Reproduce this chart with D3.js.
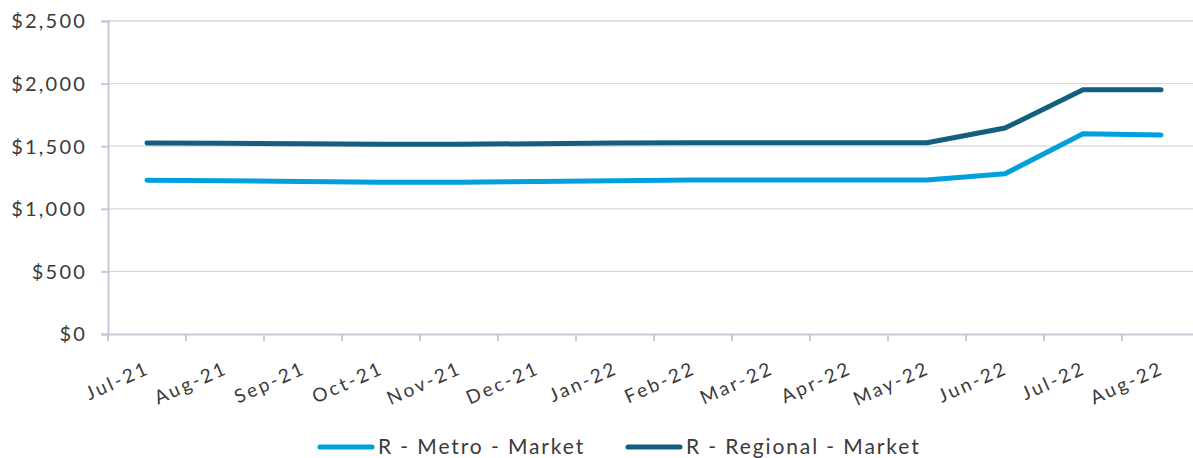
<!DOCTYPE html>
<html>
<head>
<meta charset="utf-8">
<script src="https://cdn.jsdelivr.net/npm/d3@7"></script>
<style>
  html, body { margin: 0; padding: 0; background: #ffffff; }
  svg { display: block; }
  text { font-family: Lato, "Open Sans", sans-serif; fill: #3a3a3a; }
</style>
</head>
<body>
<svg id="chart" width="1193" height="458"></svg>
<script>
// Monthly rent, metro vs regional markets
const months = ["Jul-21","Aug-21","Sep-21","Oct-21","Nov-21","Dec-21","Jan-22","Feb-22","Mar-22","Apr-22","May-22","Jun-22","Jul-22","Aug-22"];
const metro    = [1228, 1224, 1218, 1212, 1212, 1218, 1225, 1230, 1230, 1230, 1230, 1280, 1600, 1590];
const regional = [1525, 1523, 1520, 1516, 1516, 1520, 1525, 1528, 1528, 1528, 1528, 1645, 1950, 1950];
const yTicks = [0, 500, 1000, 1500, 2000, 2500];
const seriesNames = ["R - Metro - Market", "R - Regional - Market"];
const seriesColors = ["#019fdb", "#145f7f"];

const svg = d3.select("#chart");
const plotLeft = 108, plotTop = 21, plotBottom = 334;
const bandW = 78;
const plotRight = plotLeft + bandW * months.length;

const x = d3.scaleBand().domain(months).range([plotLeft, plotRight]).padding(0);
const y = d3.scaleLinear().domain([0, 2500]).range([plotBottom, plotTop]);

// horizontal gridlines
svg.append("g")
  .selectAll("line")
  .data(yTicks.filter(d => d > 0))
  .join("line")
  .attr("x1", plotLeft).attr("x2", plotRight)
  .attr("y1", d => y(d)).attr("y2", d => y(d))
  .attr("stroke", "#d9d9d9").attr("stroke-width", 1.3);

// y axis
const yAxis = svg.append("g")
  .attr("transform", `translate(${plotLeft},0)`)
  .call(d3.axisLeft(y).tickValues(yTicks).tickSize(7).tickPadding(14)
    .tickFormat(d => "$" + d3.format(",")(d)));
yAxis.select(".domain").attr("stroke", "#c5ccd8").attr("stroke-width", 2);
yAxis.selectAll(".tick line").attr("stroke", "#c5ccd8").attr("stroke-width", 2);
yAxis.selectAll(".tick text")
  .style("font-size", "20px").style("letter-spacing", "2.2px")
  .attr("fill", "#3a3a3a").attr("dy", "0.34em");

// x axis with ticks on category boundaries
const xAxis = svg.append("g")
  .attr("transform", `translate(0,${plotBottom})`)
  .call(d3.axisBottom(x).tickSize(0).tickFormat(""));
xAxis.select(".domain").attr("stroke", "#c5ccd8").attr("stroke-width", 2);
xAxis.selectAll(".tick").remove();

svg.append("g")
  .selectAll("line")
  .data(months)
  .join("line")
  .attr("x1", d => x(d)).attr("x2", d => x(d))
  .attr("y1", plotBottom).attr("y2", plotBottom + 7)
  .attr("stroke", "#c5ccd8").attr("stroke-width", 2);

svg.append("g")
  .selectAll("text")
  .data(months)
  .join("text")
  .attr("transform", d => `translate(${x(d) + x.bandwidth() / 2 + 4},${plotBottom + 39}) rotate(-24)`)
  .attr("text-anchor", "end")
  .style("font-size", "19px")
  .style("letter-spacing", "2.6px")
  .text(d => d);

// series lines
const line = d3.line()
  .x((d, i) => x(months[i]) + x.bandwidth() / 2)
  .y(d => y(d));

[metro, regional].forEach((vals, k) => {
  svg.append("path")
    .datum(vals)
    .attr("d", line)
    .attr("fill", "none")
    .attr("stroke", seriesColors[k])
    .attr("stroke-width", 5)
    .attr("stroke-linecap", "round")
    .attr("stroke-linejoin", "round");
});

// legend
const legendX = [320, 628];
const legend = svg.append("g");
seriesNames.forEach((name, k) => {
  const g = legend.append("g").attr("transform", `translate(${legendX[k]},447)`);
  g.append("line")
    .attr("x1", 0).attr("x2", 52)
    .attr("stroke", seriesColors[k]).attr("stroke-width", 5)
    .attr("stroke-linecap", "round");
  g.append("text")
    .attr("x", 58).attr("dy", "0.35em")
    .style("font-size", "21px")
    .style("letter-spacing", "1.9px")
    .text(name);
});
</script>
</body>
</html>
